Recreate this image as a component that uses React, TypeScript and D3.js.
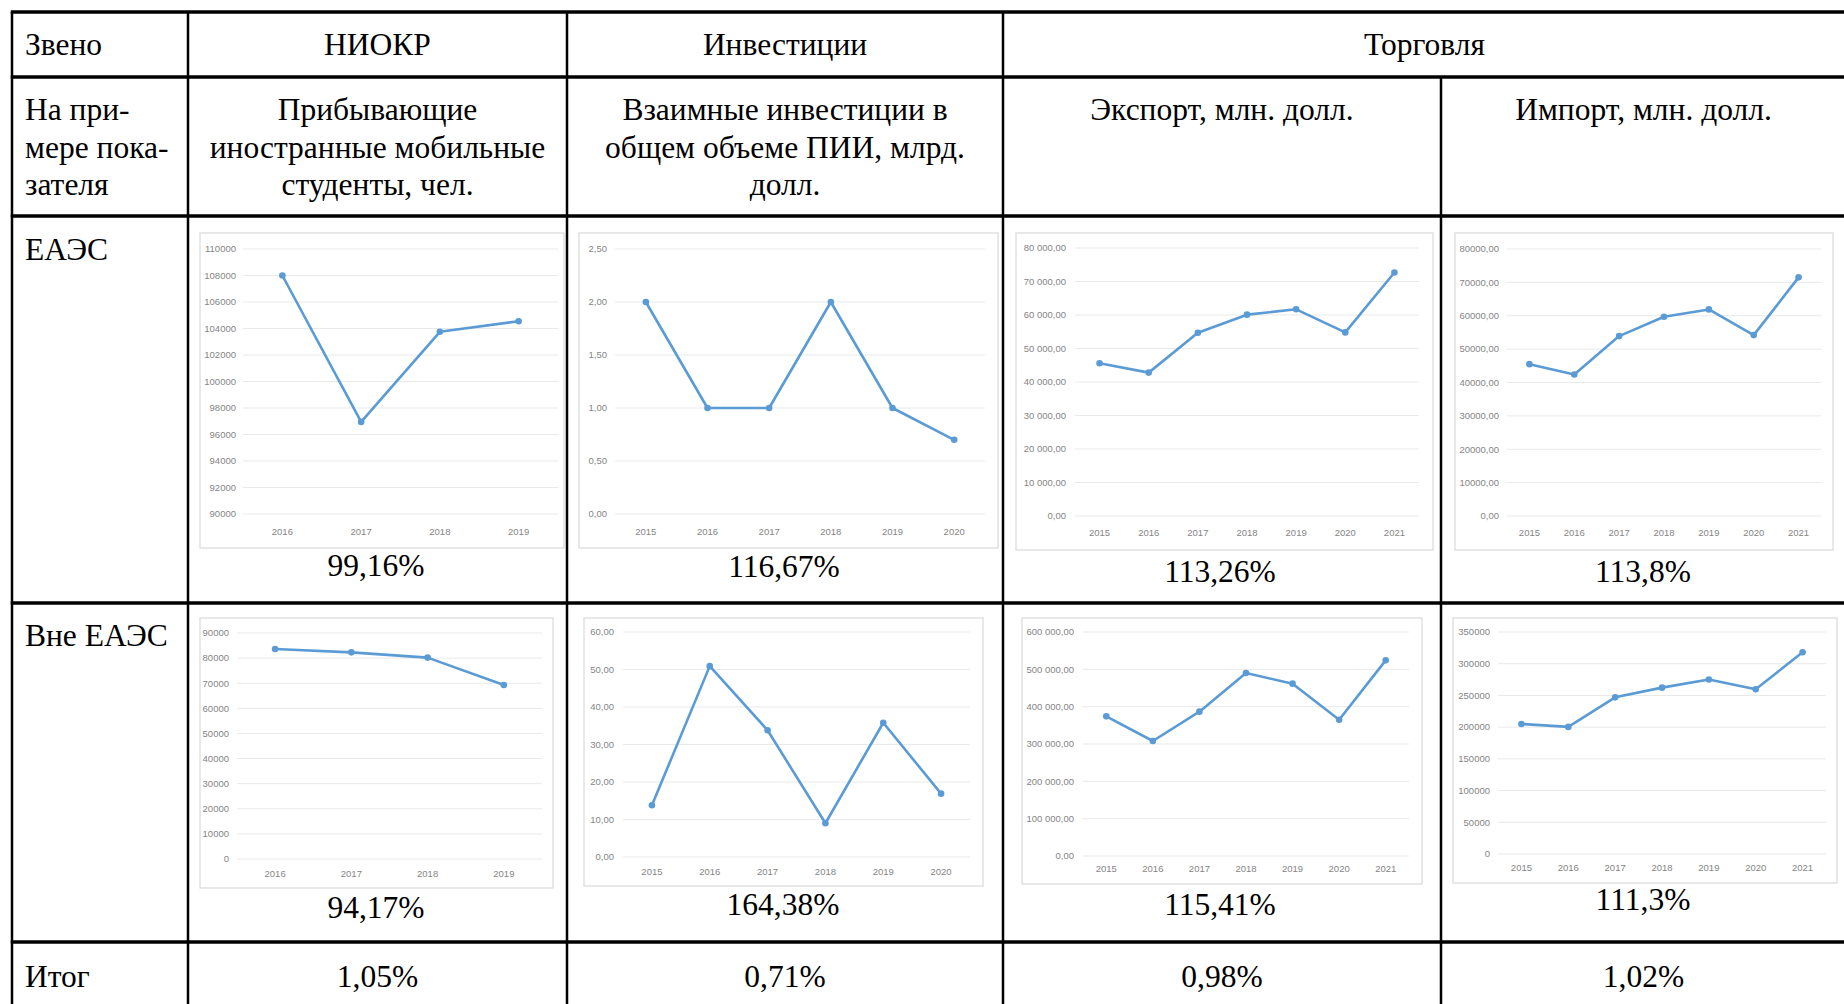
import React from "react";
import * as d3 from "d3";

// ---------- DATA ----------
const years4 = ["2016", "2017", "2018", "2019"];
const years6 = ["2015", "2016", "2017", "2018", "2019", "2020"];
const years7 = ["2015", "2016", "2017", "2018", "2019", "2020", "2021"];

// ЕАЭС
const studentsEAEU = [108000, 96950, 103750, 104550];
const investEAEU = [2.0, 1.0, 1.0, 2.0, 1.0, 0.7];
const exportEAEU = [45600, 42800, 54700, 60100, 61700, 54800, 72700];
const importEAEU = [45500, 42400, 53900, 59700, 61900, 54200, 71500];
// Вне ЕАЭС
const studentsOut = [83600, 82300, 80200, 69300];
const investOut = [13.8, 50.9, 33.8, 9.0, 35.8, 16.9];
const exportOut = [374000, 308000, 386600, 490000, 461600, 365000, 524000];
const importOut = [205000, 200400, 247000, 262300, 275000, 259700, 318000];

// tick values / labels
const ticksStudentsEAEU = [90000, 92000, 94000, 96000, 98000, 100000, 102000, 104000, 106000, 108000, 110000];
const labelsStudentsEAEU = ["90000", "92000", "94000", "96000", "98000", "100000", "102000", "104000", "106000", "108000", "110000"];
const ticksInvestEAEU = [0, 0.5, 1, 1.5, 2, 2.5];
const labelsInvestEAEU = ["0,00", "0,50", "1,00", "1,50", "2,00", "2,50"];
const ticksExportEAEU = [0, 10000, 20000, 30000, 40000, 50000, 60000, 70000, 80000];
const labelsExportEAEU = ["0,00", "10 000,00", "20 000,00", "30 000,00", "40 000,00", "50 000,00", "60 000,00", "70 000,00", "80 000,00"];
const ticksImportEAEU = [0, 10000, 20000, 30000, 40000, 50000, 60000, 70000, 80000];
const labelsImportEAEU = ["0,00", "10000,00", "20000,00", "30000,00", "40000,00", "50000,00", "60000,00", "70000,00", "80000,00"];
const ticksStudentsOut = [0, 10000, 20000, 30000, 40000, 50000, 60000, 70000, 80000, 90000];
const labelsStudentsOut = ["0", "10000", "20000", "30000", "40000", "50000", "60000", "70000", "80000", "90000"];
const ticksInvestOut = [0, 10, 20, 30, 40, 50, 60];
const labelsInvestOut = ["0,00", "10,00", "20,00", "30,00", "40,00", "50,00", "60,00"];
const ticksExportOut = [0, 100000, 200000, 300000, 400000, 500000, 600000];
const labelsExportOut = ["0,00", "100 000,00", "200 000,00", "300 000,00", "400 000,00", "500 000,00", "600 000,00"];
const ticksImportOut = [0, 50000, 100000, 150000, 200000, 250000, 300000, 350000];
const labelsImportOut = ["0", "50000", "100000", "150000", "200000", "250000", "300000", "350000"];

// table texts
const headerRow = ["Звено", "НИОКР", "Инвестиции", "Торговля"];
const indicatorLabel = ["На при-", "мере пока-", "зателя"];
const indicatorNiokr = ["Прибывающие", "иностранные мобильные", "студенты, чел."];
const indicatorInvest = ["Взаимные инвестиции в", "общем объеме ПИИ, млрд.", "долл."];
const indicatorExport = ["Экспорт, млн. долл."];
const indicatorImport = ["Импорт, млн. долл."];
const rowLabels = ["ЕАЭС", "Вне ЕАЭС", "Итог"];
const pctEAEU = ["99,16%", "116,67%", "113,26%", "113,8%"];
const pctOut = ["94,17%", "164,38%", "115,41%", "111,3%"];
const totals = ["1,05%", "0,71%", "0,98%", "1,02%"];

// ---------- LAYOUT ----------
type Spec = {
  years: string[];
  values: number[];
  ticks: number[];
  labels: string[];
  box: [number, number, number, number];
  plot: [number, number, number, number]; // left, right, topY(max tick), bottomY(min tick)
  yLabX: number;
  xLabY: number;
  pct: string;
  pctX: number;
  pctY: number;
};

const specs: Spec[] = [
  { years: years4, values: studentsEAEU, ticks: ticksStudentsEAEU, labels: labelsStudentsEAEU,
    box: [200, 233, 564, 548], plot: [243, 558, 249, 514], yLabX: 236, xLabY: 532, pct: pctEAEU[0], pctX: 376, pctY: 576 },
  { years: years6, values: investEAEU, ticks: ticksInvestEAEU, labels: labelsInvestEAEU,
    box: [579, 233, 998, 548], plot: [615, 985, 249, 514], yLabX: 607, xLabY: 532, pct: pctEAEU[1], pctX: 784, pctY: 577 },
  { years: years7, values: exportEAEU, ticks: ticksExportEAEU, labels: labelsExportEAEU,
    box: [1016, 233, 1433, 550], plot: [1075, 1419, 248, 516], yLabX: 1066, xLabY: 533, pct: pctEAEU[2], pctX: 1220, pctY: 582 },
  { years: years7, values: importEAEU, ticks: ticksImportEAEU, labels: labelsImportEAEU,
    box: [1455, 233, 1833, 550], plot: [1507, 1821, 249, 516], yLabX: 1499, xLabY: 533, pct: pctEAEU[3], pctX: 1643, pctY: 582 },
  { years: years4, values: studentsOut, ticks: ticksStudentsOut, labels: labelsStudentsOut,
    box: [200, 618, 553, 888], plot: [237, 542, 633, 859], yLabX: 229, xLabY: 874, pct: pctOut[0], pctX: 376, pctY: 918 },
  { years: years6, values: investOut, ticks: ticksInvestOut, labels: labelsInvestOut,
    box: [584, 618, 983, 886], plot: [623, 970, 632, 857], yLabX: 614, xLabY: 872, pct: pctOut[1], pctX: 783, pctY: 915 },
  { years: years7, values: exportOut, ticks: ticksExportOut, labels: labelsExportOut,
    box: [1022, 618, 1422, 884], plot: [1083, 1409, 632, 856], yLabX: 1074, xLabY: 869, pct: pctOut[2], pctX: 1220, pctY: 915 },
  { years: years7, values: importOut, ticks: ticksImportOut, labels: labelsImportOut,
    box: [1453, 618, 1837, 883], plot: [1498, 1826, 632, 854], yLabX: 1490, xLabY: 868, pct: pctOut[3], pctX: 1643, pctY: 910 },
];

const SERIF = "'Liberation Serif', 'Times New Roman', serif";
const SANS = "'Liberation Sans', Arial, sans-serif";
const FS = 31.5;
const LINE_COLOR = "#5b9bd5";

function MiniChart({ s }: { s: Spec }) {
  const [l, r, t, b] = s.plot;
  const x = d3.scaleBand<string>().domain(s.years).range([l, r]).padding(0);
  const bw = x.bandwidth();
  const y = d3.scaleLinear().domain([s.ticks[0], s.ticks[s.ticks.length - 1]]).range([b, t]);
  const cx = (i: number) => (x(s.years[i]) as number) + bw / 2;
  const line = d3
    .line<number>()
    .x((_, i) => cx(i))
    .y((d) => y(d));
  const [bx0, by0, bx1, by1] = s.box;
  return (
    <g>
      <rect x={bx0} y={by0} width={bx1 - bx0} height={by1 - by0} fill="#fff" stroke="#d9d9d9" strokeWidth={1.2} />
      {s.ticks.map((tv, i) => (
        <g key={i}>
          <line x1={l} x2={r} y1={y(tv)} y2={y(tv)} stroke="#e9e9e9" strokeWidth={1} />
          <text x={s.yLabX} y={y(tv)} dy="0.35em" textAnchor="end" fontFamily={SANS} fontSize={9.5} fill="#858585">
            {s.labels[i]}
          </text>
        </g>
      ))}
      {s.years.map((yr, i) => (
        <text key={yr} x={cx(i)} y={s.xLabY} dy="0.35em" textAnchor="middle" fontFamily={SANS} fontSize={9.5} fill="#858585">
          {yr}
        </text>
      ))}
      <path d={line(s.values) || ""} fill="none" stroke={LINE_COLOR} strokeWidth={2.6} strokeLinejoin="round" />
      {s.values.map((v, i) => (
        <circle key={i} cx={cx(i)} cy={y(v)} r={3.3} fill={LINE_COLOR} />
      ))}
      <text x={s.pctX} y={s.pctY} textAnchor="middle" fontFamily={SERIF} fontSize={FS} fill="#000">
        {s.pct}
      </text>
    </g>
  );
}

function Lines({ lines, x, y0, anchor }: { lines: string[]; x: number; y0: number; anchor: "start" | "middle" }) {
  return (
    <g>
      {lines.map((t, i) => (
        <text key={i} x={x} y={y0 + i * 37.5} textAnchor={anchor} fontFamily={SERIF} fontSize={FS} fill="#000">
          {t}
        </text>
      ))}
    </g>
  );
}

export default function App() {
  const W = 1844;
  const H = 1004;
  // table geometry
  const colX = [12, 188, 567, 1003, 1441, 1846];
  const rowY = [12, 77, 216, 603, 942];
  const hW = 3.5;
  const vW = 2.5;
  const colCenter = (i: number) => (colX[i] + colX[i + 1]) / 2;
  const leftX = 25;
  return (
    <svg
      width={W}
      height={H}
      viewBox={`0 0 ${W} ${H}`}
      style={{ position: "absolute", left: 0, top: 0, background: "#fff", display: "block" }}
    >
      <rect x={0} y={0} width={W} height={H} fill="#fff" />
      {/* horizontal rules */}
      {rowY.map((yy, i) => (
        <line key={"h" + i} x1={colX[0] - vW / 2} x2={W + 10} y1={yy} y2={yy} stroke="#000" strokeWidth={hW} />
      ))}
      {/* vertical rules */}
      {[0, 1, 2, 3].map((i) => (
        <line key={"v" + i} x1={colX[i]} x2={colX[i]} y1={rowY[0]} y2={H + 10} stroke="#000" strokeWidth={vW} />
      ))}
      <line x1={colX[4]} x2={colX[4]} y1={rowY[1]} y2={H + 10} stroke="#000" strokeWidth={vW} />
      <line x1={colX[5]} x2={colX[5]} y1={rowY[0]} y2={H + 10} stroke="#000" strokeWidth={vW} />

      {/* header row */}
      <Lines lines={[headerRow[0]]} x={leftX} y0={55} anchor="start" />
      <Lines lines={[headerRow[1]]} x={colCenter(1)} y0={55} anchor="middle" />
      <Lines lines={[headerRow[2]]} x={colCenter(2)} y0={55} anchor="middle" />
      <Lines lines={[headerRow[3]]} x={(colX[3] + colX[5]) / 2} y0={55} anchor="middle" />

      {/* indicator row */}
      <Lines lines={indicatorLabel} x={leftX} y0={120} anchor="start" />
      <Lines lines={indicatorNiokr} x={colCenter(1)} y0={120} anchor="middle" />
      <Lines lines={indicatorInvest} x={colCenter(2)} y0={120} anchor="middle" />
      <Lines lines={indicatorExport} x={colCenter(3)} y0={120} anchor="middle" />
      <Lines lines={indicatorImport} x={colCenter(4)} y0={120} anchor="middle" />

      {/* row labels */}
      <Lines lines={[rowLabels[0]]} x={leftX} y0={260} anchor="start" />
      <Lines lines={[rowLabels[1]]} x={leftX} y0={646} anchor="start" />
      <Lines lines={[rowLabels[2]]} x={leftX} y0={987} anchor="start" />

      {/* charts */}
      {specs.map((s, i) => (
        <MiniChart key={i} s={s} />
      ))}

      {/* totals */}
      {totals.map((t, i) => (
        <Lines key={"t" + i} lines={[t]} x={colCenter(i + 1)} y0={987} anchor="middle" />
      ))}
    </svg>
  );
}
